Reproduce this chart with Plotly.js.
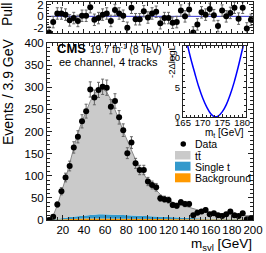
<!DOCTYPE html>
<html>
<head>
<meta charset="utf-8">
<script src="https://cdn.plot.ly/plotly-3.0.1.min.js"></script>
<style>html,body{margin:0;padding:0;background:#fff;}#plot{width:266px;height:253px;}</style>
</head>
<body>
<div id="plot"></div>
<script>
// ---- data ----
const binCenters = [6.95, 10.85, 14.75, 18.65, 22.55, 26.45, 30.35, 34.25, 38.15, 42.05,
  45.95, 49.85, 53.75, 57.65, 61.55, 65.45, 69.35, 73.25, 77.15, 81.05,
  84.95, 88.85, 92.75, 96.65, 100.55, 104.45, 108.35, 112.25, 116.15, 120.05,
  123.95, 127.85, 131.75, 135.65, 139.55, 143.45, 147.35, 151.25, 155.15, 159.05,
  162.95, 166.85, 170.75, 174.65, 178.55, 182.45, 186.35, 190.25, 194.15, 198.05];
const dataCounts = [0, 7.5, 35, 65, 96, 122, 164, 188, 223, 246,
  295, 277, 294, 301, 299, 256, 269, 232, 203, 151,
  175, 128, 113, 113, 87, 79, 74, 49, 47, 45,
  34, 32, 40, 36, 36, 11, 16.5, 19, 22.5, 13,
  15, 11, 9, 13, 19, 11, 9, 15, 1.6, 4];
const ttbar = [1.5, 8.7, 30.5, 57.5, 88, 121.5, 157.5, 188, 213, 236,
  256, 272.5, 282, 283, 276, 259, 238.5, 213.5, 189.5, 167,
  145.5, 126, 108.5, 94, 80.7, 69.2, 60, 51.5, 43.7, 39.2,
  34.6, 32, 29.2, 26.4, 23.8, 21, 19.3, 17.5, 15.7, 13.8,
  13, 12.1, 11.3, 10.4, 9.6, 9.2, 8.9, 8.4, 8.1, 7.6];
const singleTop = [0.2, 0.5, 1, 1.5, 2.5, 3.5, 4.5, 5.5, 6.5, 7.5,
  8.5, 9, 9.5, 9.5, 9.5, 9.5, 9, 9, 8.5, 8,
  7.5, 7, 6.5, 6, 5.5, 5, 4.5, 4, 3.8, 3.5,
  3.2, 3, 2.8, 2.6, 2.4, 2.2, 2, 1.9, 1.8, 1.7,
  1.6, 1.5, 1.4, 1.3, 1.2, 1.1, 1.0, 1.0, 0.9, 0.9];
const background = [0.3, 0.8, 1.5, 2, 2.5, 3, 3, 3.5, 3.5, 3.5,
  3.5, 3.5, 3.5, 3.5, 3.5, 3.5, 3.5, 3.5, 3, 3,
  3, 3, 3, 3, 2.8, 2.8, 2.5, 2.5, 2.5, 2.3,
  2.2, 2, 2, 2, 1.8, 1.8, 1.7, 1.6, 1.5, 1.5,
  1.4, 1.4, 1.3, 1.3, 1.2, 1.2, 1.1, 1.1, 1, 1];
const pulls = [-2.8, -1.0, 0.5, 0.5, 0.3, -0.7, -0.3, -0.8, 0.1, 0.1,
  1.6, -0.6, -0.3, 0.3, 0.5, -0.8, 1.1, 0.5, 0.1, -2.0,
  1.5, -0.5, -0.5, 0.9, -0.2, 0.5, 0.8, -1.2, -0.3, -0.3,
  -1.1, -1.0, 1.0, 0.0, 1.2, -2.8, -1.4, 0.7, 0.3, 1.3,
  0.2, -1.7, 1.0, 0.0, 0.6, 1.5, -0.4, 1.5, -2.1, -0.6];
const insetMt = [166.2, 167, 168, 169, 170, 171, 172, 173, 174, 175, 176, 177, 178, 179, 180, 180.3];
const insetNll = [12, 9.8, 7.4, 5.1, 3.2, 1.7, 0.6, 0.05, 0.2, 0.9, 2.1, 3.8, 5.9, 8.4, 11.2, 12];
const xTicks = [20, 40, 60, 80, 100, 120, 140, 160, 180, 200];
const insetXTicks = [165, 170, 175, 180];

// ---- geometry helpers (pixel -> paper) ----
const W = 266, H = 253, ML = 47, MR = 13, MT = 2, MB = 33;
const PW = W - ML - MR, PH = H - MT - MB;
const px = x => (x - ML) / PW;
const py = y => (H - MB - y) / PH;

const colTT = '#cacaca', colST = '#3399cc', colBG = '#ff9900';
const axCol = '#222';

const traces = [
  {x: binCenters, y: background, type: 'scatter', mode: 'lines', stackgroup: 'mc',
   line: {width: 0, color: colBG}, fillcolor: colBG, xaxis: 'x', yaxis: 'y', hoverinfo: 'skip'},
  {x: binCenters, y: singleTop, type: 'scatter', mode: 'lines', stackgroup: 'mc',
   line: {width: 0, color: colST}, fillcolor: colST, xaxis: 'x', yaxis: 'y', hoverinfo: 'skip'},
  {x: binCenters, y: ttbar, type: 'scatter', mode: 'lines', stackgroup: 'mc',
   line: {width: 1, color: '#8a8a8a'}, fillcolor: colTT, xaxis: 'x', yaxis: 'y', hoverinfo: 'skip'},
  {x: binCenters, y: dataCounts, type: 'scatter', mode: 'markers',
   marker: {color: '#000', size: 6},
   error_y: {type: 'data', array: dataCounts.map(v => Math.sqrt(v)), color: '#666', thickness: 1, width: 1.5},
   xaxis: 'x', yaxis: 'y'},
  {x: binCenters, y: pulls, type: 'scatter', mode: 'markers',
   marker: {color: '#000', size: 6},
   error_y: {type: 'constant', value: 1, color: '#666', thickness: 1, width: 1.5},
   xaxis: 'x2', yaxis: 'y2'},
  {x: insetMt, y: insetNll, type: 'scatter', mode: 'lines',
   line: {color: '#0000ff', width: 1.5, shape: 'spline'}, xaxis: 'x3', yaxis: 'y3'}
];

const tf = {family: 'Liberation Sans, Arial, sans-serif', size: 11.5, color: '#000'};
const tfs = {family: 'Liberation Sans, Arial, sans-serif', size: 9.5, color: '#000'};

const layout = {
  width: W, height: H,
  margin: {l: ML, r: MR, t: MT, b: MB, pad: 0},
  paper_bgcolor: '#fff', plot_bgcolor: '#fff',
  showlegend: false,
  font: {family: 'Liberation Sans, Arial, sans-serif', color: '#000'},
  xaxis: {domain: [0, 1], anchor: 'y', range: [5, 200], tickvals: xTicks, tickangle: 0,
    ticklabelstandoff: -1,
    ticks: 'inside', ticklen: 5, tickcolor: axCol, mirror: 'ticks', showline: true,
    linecolor: axCol, linewidth: 1, showgrid: false, zeroline: false, tickfont: tf,
    minor: {dtick: 5, tick0: 0, ticks: 'inside', ticklen: 3, tickcolor: axCol}},
  yaxis: {domain: [0, py(43)], anchor: 'x', range: [0, 400], dtick: 50, tick0: 0, tickangle: 0,
    ticks: 'inside', ticklen: 5, tickcolor: axCol, mirror: 'ticks', showline: true,
    linecolor: axCol, linewidth: 1, showgrid: false, zeroline: false, tickfont: tf,
    minor: {dtick: 10, ticks: 'inside', ticklen: 3, tickcolor: axCol}},
  xaxis2: {domain: [0, 1], anchor: 'y2', matches: 'x', range: [5, 200], tickvals: xTicks,
    showticklabels: false, ticks: 'inside', ticklen: 4, tickcolor: axCol, mirror: 'ticks',
    showline: true, linecolor: axCol, linewidth: 1, showgrid: false, zeroline: false,
    minor: {dtick: 5, tick0: 0, ticks: 'inside', ticklen: 2, tickcolor: axCol}},
  yaxis2: {domain: [py(33), 1], anchor: 'x2', range: [-2.9, 2.5], tickvals: [-2, 0, 2],
    ticktext: ['-2', '0', '2'], tickangle: 0, ticks: 'inside', ticklen: 4, tickcolor: axCol,
    mirror: 'ticks', showline: true, linecolor: axCol, linewidth: 1, showgrid: false,
    zeroline: false, tickfont: tf,
    minor: {dtick: 0.5, ticks: 'inside', ticklen: 2, tickcolor: axCol}},
  xaxis3: {domain: [px(183), px(246)], anchor: 'y3', range: [165, 181], tickvals: insetXTicks,
    tickangle: 0, ticklabelstandoff: -3,
    ticks: 'inside', ticklen: 3, tickcolor: axCol, mirror: 'ticks', showline: true,
    linecolor: axCol, linewidth: 1, showgrid: false, zeroline: false, tickfont: tfs,
    minor: {dtick: 1, ticks: 'inside', ticklen: 2, tickcolor: axCol}},
  yaxis3: {domain: [py(117), py(46)], anchor: 'x3', range: [0, 12], tickvals: [0, 5, 10],
    tickangle: 0,
    ticks: 'inside', ticklen: 3, tickcolor: axCol, mirror: 'ticks', showline: true,
    linecolor: axCol, linewidth: 1, showgrid: false, zeroline: false, tickfont: tfs,
    minor: {dtick: 1, ticks: 'inside', ticklen: 2, tickcolor: axCol}},
  shapes: [
    {type: 'line', xref: 'x2 domain', yref: 'y2', x0: 0, x1: 1, y0: 0, y1: 0,
     line: {color: '#3333cc', width: 1}, layer: 'below'},
    {type: 'circle', xref: 'paper', yref: 'paper', x0: px(180.5), x1: px(186), y0: py(141.3), y1: py(146.8),
     fillcolor: '#000', line: {width: 0}},
    {type: 'rect', xref: 'paper', yref: 'paper', x0: px(175), x1: px(190.5), y0: py(151), y1: py(159.5),
     fillcolor: colTT, line: {width: 0}},
    {type: 'rect', xref: 'paper', yref: 'paper', x0: px(175), x1: px(190.5), y0: py(161.7), y1: py(170.7),
     fillcolor: colST, line: {width: 0}},
    {type: 'rect', xref: 'paper', yref: 'paper', x0: px(175), x1: px(190.5), y0: py(173.3), y1: py(182.3),
     fillcolor: colBG, line: {width: 0}}
  ],
  annotations: [
    {text: 'Events / 3.9 GeV', xref: 'paper', yref: 'paper', x: px(8), y: py(92), textangle: -90,
     showarrow: false, xanchor: 'center', yanchor: 'middle', font: {size: 14}},
    {text: 'Pull', xref: 'paper', yref: 'paper', x: px(7), y: py(15), textangle: -90,
     showarrow: false, xanchor: 'center', yanchor: 'middle', font: {size: 14}},
    {text: 'm<sub>svl</sub> [GeV]', xref: 'paper', yref: 'paper', x: px(254), y: py(244.5),
     showarrow: false, xanchor: 'right', yanchor: 'middle', font: {size: 13.5}},
    {text: '<b>CMS</b>', xref: 'paper', yref: 'paper', x: px(55), y: py(48.5),
     showarrow: false, xanchor: 'left', yanchor: 'middle', font: {size: 13}},
    {text: '19.7 fb<sup>-1</sup> (8 TeV)', xref: 'paper', yref: 'paper', x: px(88), y: py(49),
     showarrow: false, xanchor: 'left', yanchor: 'middle', font: {size: 10}},
    {text: 'ee channel, 4 tracks', xref: 'paper', yref: 'paper', x: px(57), y: py(62),
     showarrow: false, xanchor: 'left', yanchor: 'middle', font: {size: 11}},
    {text: '-2ΔlogL', xref: 'paper', yref: 'paper', x: px(171), y: py(62), textangle: -90,
     showarrow: false, xanchor: 'center', yanchor: 'middle', font: {size: 9.5}},
    {text: 'm<sub>t</sub> [GeV]', xref: 'paper', yref: 'paper', x: px(246), y: py(132.5),
     showarrow: false, xanchor: 'right', yanchor: 'middle', font: {size: 10}},
    {text: 'Data', xref: 'paper', yref: 'paper', x: px(192.5), y: py(144),
     showarrow: false, xanchor: 'left', yanchor: 'middle', font: {size: 10.5}},
    {text: 'tt\u0304', xref: 'paper', yref: 'paper', x: px(192.5), y: py(155.5),
     showarrow: false, xanchor: 'left', yanchor: 'middle', font: {size: 10.5}},
    {text: 'Single t', xref: 'paper', yref: 'paper', x: px(192.5), y: py(166.5),
     showarrow: false, xanchor: 'left', yanchor: 'middle', font: {size: 10.5}},
    {text: 'Background', xref: 'paper', yref: 'paper', x: px(192.5), y: py(178),
     showarrow: false, xanchor: 'left', yanchor: 'middle', font: {size: 10.5}}
  ]
};

Plotly.newPlot('plot', traces, layout, {staticPlot: true, displayModeBar: false});
</script>
</body>
</html>
